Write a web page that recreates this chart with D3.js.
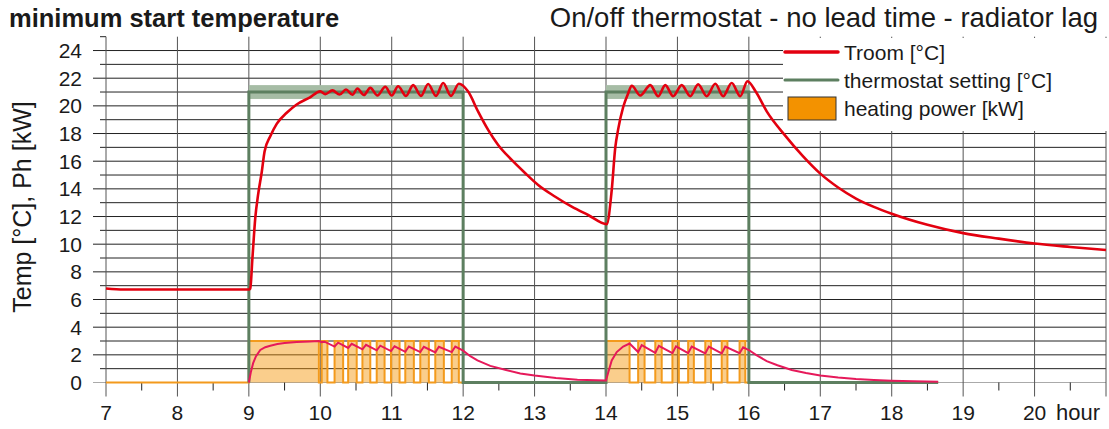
<!DOCTYPE html>
<html>
<head>
<meta charset="utf-8">
<script src="https://cdn.jsdelivr.net/npm/d3@7"></script>
<style>
  body { margin: 0; background: #fff; }
  text { font-family: "Liberation Sans", Arial, sans-serif; fill: #1a1a1a; }
</style>
</head>
<body>
<div class="chart"></div>
<script>
// hours on the x axis, temperatures / kW on the y axis
var xTicks = [7, 8, 9, 10, 11, 12, 13, 14, 15, 16, 17, 18, 19, 20];
var yTicks = [0, 2, 4, 6, 8, 10, 12, 14, 16, 18, 20, 22, 24];

// room temperature [°C]
var troomHour = [7.0, 7.25, 9.0, 9.02, 9.05, 9.09, 9.13, 9.18, 9.22, 9.30, 9.39, 9.53, 9.67, 9.85, 10.0,
  10.07, 10.17, 10.27, 10.36, 10.45, 10.52, 10.61, 10.70, 10.80, 10.91, 11.0, 11.09, 11.2, 11.30, 11.41, 11.51, 11.62, 11.72, 11.83, 11.94,
  12.07, 12.21, 12.35, 12.49, 12.68, 12.87, 13.05, 13.29, 13.52, 13.75, 14.01,
  14.08, 14.13, 14.17, 14.24, 14.31, 14.36,
  14.48, 14.62, 14.73, 14.83, 14.94, 15.06, 15.18, 15.29, 15.41, 15.53, 15.64, 15.76, 15.88, 15.98,
  16.1, 16.25, 16.5, 16.75, 17.0, 17.25, 17.5, 17.75, 18.0, 18.5, 19.0, 19.5, 20.0, 20.5, 21.0];
var troomVal = [6.8, 6.72, 6.72, 6.8, 9.0, 11.9, 13.6, 15.2, 16.7, 17.8, 18.7, 19.5, 20.1, 20.6, 21.05,
  20.85, 21.12, 20.82, 21.18, 20.8, 21.25, 20.78, 21.3, 20.75, 21.38, 20.75, 21.42, 20.72, 21.5, 20.72, 21.58, 20.72, 21.65, 20.72, 21.6,
  21.03, 19.58, 18.26, 17.17, 16.09, 15.13, 14.28, 13.43, 12.71, 12.11, 11.45,
  13.9, 17.0, 18.3, 19.9, 20.9, 21.45,
  20.75, 21.5, 20.7, 21.5, 20.7, 21.5, 20.7, 21.55, 20.7, 21.6, 20.7, 21.65, 20.7, 21.78,
  21.0, 19.6, 17.9, 16.4, 15.1, 14.1, 13.3, 12.7, 12.2, 11.4, 10.8, 10.4, 10.05, 9.8, 9.58];

// thermostat setting [°C]
var thermoHour = [9, 9, 12, 12, 14, 14, 16, 16, 18.65];
var thermoVal = [0, 21, 21, 0, 0, 21, 21, 0, 0];
// hysteresis band around the setting
var bandStart = [9, 14];
var bandEnd = [12, 16];
var bandLow = 20.5;
var bandHigh = 21.5;

// heating power [kW], value holds from this hour to the next one
var heatHour = [7, 9.0, 9.98, 10.02, 10.10, 10.20, 10.32, 10.39, 10.51, 10.59, 10.70, 10.79, 10.90, 10.99, 11.11,
  11.19, 11.31, 11.40, 11.52, 11.61, 11.73, 11.84, 11.94,
  14.0, 14.33, 14.45, 14.54, 14.69, 14.78, 14.93, 15.02, 15.15, 15.23, 15.39, 15.47, 15.62, 15.70, 15.87, 15.95, 18.65];
var heatVal = [0, 3, 0, 3, 0, 3, 0, 3, 0, 3, 0, 3, 0, 3, 0,
  3, 0, 3, 0, 3, 0, 3, 0,
  3, 0, 3, 0, 3, 0, 3, 0, 3, 0, 3, 0, 3, 0, 3, 0, 0];

// radiator output [kW] (lagging the heating power)
var radHour = [9.0, 9.03, 9.06, 9.1, 9.16, 9.23, 9.3, 9.4, 9.5, 9.67, 9.85, 9.98,
  10.02, 10.06, 10.20, 10.25, 10.39, 10.44, 10.59, 10.64, 10.79, 10.84, 10.99, 11.04, 11.19, 11.24, 11.40, 11.45, 11.61, 11.66, 11.84, 11.89,
  12.0, 12.1, 12.2, 12.38, 12.6, 12.8, 13.0, 13.3, 13.6, 14.0,
  14.03, 14.08, 14.15, 14.24, 14.33,
  14.45, 14.5, 14.69, 14.74, 14.93, 14.98, 15.15, 15.2, 15.39, 15.44, 15.62, 15.67, 15.87, 15.92,
  16.0, 16.1, 16.25, 16.4, 16.6, 16.8, 17.0, 17.25, 17.5, 17.75, 18.0, 18.3, 18.65];
var radVal = [0, 0.8, 1.4, 1.9, 2.35, 2.55, 2.66, 2.78, 2.85, 2.92, 2.97, 3.0,
  2.92, 2.95, 2.6, 2.88, 2.5, 2.8, 2.4, 2.72, 2.33, 2.66, 2.27, 2.62, 2.22, 2.6, 2.2, 2.58, 2.18, 2.58, 2.2, 2.6,
  2.3, 1.9, 1.6, 1.2, 0.9, 0.65, 0.5, 0.33, 0.2, 0.14,
  0.7, 1.6, 2.2, 2.6, 2.82,
  2.2, 2.7, 2.15, 2.65, 2.12, 2.62, 2.12, 2.6, 2.1, 2.6, 2.1, 2.6, 2.12, 2.55,
  2.35, 2.0, 1.55, 1.25, 0.9, 0.68, 0.5, 0.36, 0.25, 0.18, 0.13, 0.09, 0.06];

var legendNames = ["Troom [°C]", "thermostat setting [°C]", "heating power [kW]"];

var W = 1109, H = 429;

var svg = d3.select(".chart").append("svg")
    .attr("width", W)
    .attr("height", H);

var x = d3.scaleLinear().domain([7, 21]).range([106, 1106]);
var y = d3.scaleLinear().domain([0, 25]).range([382.5, 36.7]);

function zip(a, b) { return a.map(function(d, i) { return [d, b[i]]; }); }

// grid
var grid = svg.append("g");
d3.range(0, 25).forEach(function(v) {
  grid.append("line")
    .attr("x1", v % 2 === 0 ? x(7) - 13 : x(7) - 6).attr("x2", x(21))
    .attr("y1", y(v)).attr("y2", y(v))
    .attr("stroke", v === 0 ? "#aaa" : "#222").attr("stroke-width", 1);
});
grid.append("line").attr("x1", x(7) - 6).attr("x2", x(7))
  .attr("y1", y(25)).attr("y2", y(25)).attr("stroke", "#222");
d3.range(7, 22).forEach(function(h) {
  grid.append("line")
    .attr("x1", x(h)).attr("x2", x(h))
    .attr("y1", y(25)).attr("y2", y(0) + 14)
    .attr("stroke", "#555").attr("stroke-width", 1);
});
d3.range(7.5, 21, 1).forEach(function(h) {
  grid.append("line")
    .attr("x1", x(h)).attr("x2", x(h))
    .attr("y1", y(0)).attr("y2", y(0) + 8)
    .attr("stroke", "#222").attr("stroke-width", 1);
});

// thermostat band
bandStart.forEach(function(s, i) {
  svg.append("rect")
    .attr("x", x(s)).attr("y", y(bandHigh))
    .attr("width", x(bandEnd[i]) - x(s))
    .attr("height", y(bandLow) - y(bandHigh))
    .attr("fill", "#a6bca5");
});

// heating power
var heatData = zip(heatHour, heatVal);
svg.append("path")
  .datum(heatData)
  .attr("fill", "#f39200").attr("fill-opacity", 0.45)
  .attr("d", d3.area().curve(d3.curveStepAfter)
    .x(function(d) { return x(d[0]); })
    .y0(y(0)).y1(function(d) { return y(d[1]); }));
svg.append("path")
  .datum(heatData)
  .attr("fill", "none").attr("stroke", "#f39a1c").attr("stroke-width", 2)
  .attr("d", d3.line().curve(d3.curveStepAfter)
    .x(function(d) { return x(d[0]); })
    .y(function(d) { return y(d[1]); }));

// thermostat setting
svg.append("path")
  .datum(zip(thermoHour, thermoVal))
  .attr("fill", "none").attr("stroke", "#5d7f60").attr("stroke-width", 3)
  .attr("d", d3.line()
    .x(function(d) { return x(d[0]); })
    .y(function(d) { return y(d[1]); }));

// radiator output
svg.append("path")
  .datum(zip(radHour, radVal))
  .attr("fill", "none").attr("stroke", "#e6195a").attr("stroke-width", 2)
  .attr("d", d3.line()
    .x(function(d) { return x(d[0]); })
    .y(function(d) { return y(d[1]); }));

// room temperature
svg.append("path")
  .datum(zip(troomHour, troomVal))
  .attr("fill", "none").attr("stroke", "#e3000f").attr("stroke-width", 2.6)
  .attr("stroke-linejoin", "round")
  .attr("d", d3.line().curve(d3.curveMonotoneX)
    .x(function(d) { return x(d[0]); })
    .y(function(d) { return y(d[1]); }));

// axis labels
svg.selectAll(".ylab").data(yTicks).enter().append("text")
  .attr("x", 82).attr("y", function(d) { return y(d) + 7.5; })
  .attr("text-anchor", "end").style("font-size", "21px")
  .text(function(d) { return d; });
svg.selectAll(".xlab").data(xTicks).enter().append("text")
  .attr("x", function(d) { return x(d); }).attr("y", 420)
  .attr("text-anchor", "middle").style("font-size", "21px")
  .text(function(d) { return d; });
svg.append("text").attr("x", 1100).attr("y", 420)
  .attr("text-anchor", "end").style("font-size", "22px")
  .text("hour");

svg.append("text")
  .attr("transform", "translate(31,207) rotate(-90)")
  .attr("text-anchor", "middle").style("font-size", "25px")
  .text("Temp [°C], Ph [kW]");

// titles
svg.append("text").attr("x", 9).attr("y", 27)
  .style("font-size", "25.5px").style("font-weight", "bold")
  .text("minimum start temperature");
svg.append("text").attr("x", 1098).attr("y", 27)
  .attr("text-anchor", "end").style("font-size", "27.5px")
  .text("On/off thermostat - no lead time - radiator lag");

// legend
var lg = svg.append("g");
lg.append("rect").attr("x", 783).attr("y", 38).attr("width", 326).attr("height", 93).attr("fill", "#fff");
lg.append("line").attr("x1", 785).attr("x2", 838).attr("y1", 52).attr("y2", 52)
  .attr("stroke", "#e3000f").attr("stroke-width", 3.5).attr("stroke-linecap", "round");
lg.append("line").attr("x1", 785).attr("x2", 838).attr("y1", 80).attr("y2", 80)
  .attr("stroke", "#5d7f60").attr("stroke-width", 3).attr("stroke-linecap", "round");
lg.append("rect").attr("x", 788).attr("y", 97).attr("width", 48).attr("height", 23)
  .attr("fill", "#f39200").attr("stroke", "#333").attr("stroke-width", 1);
legendNames.forEach(function(n, i) {
  lg.append("text").attr("x", 844).attr("y", 60 + i * 28)
    .style("font-size", "21px")
    .text(n);
});
</script>
</body>
</html>
